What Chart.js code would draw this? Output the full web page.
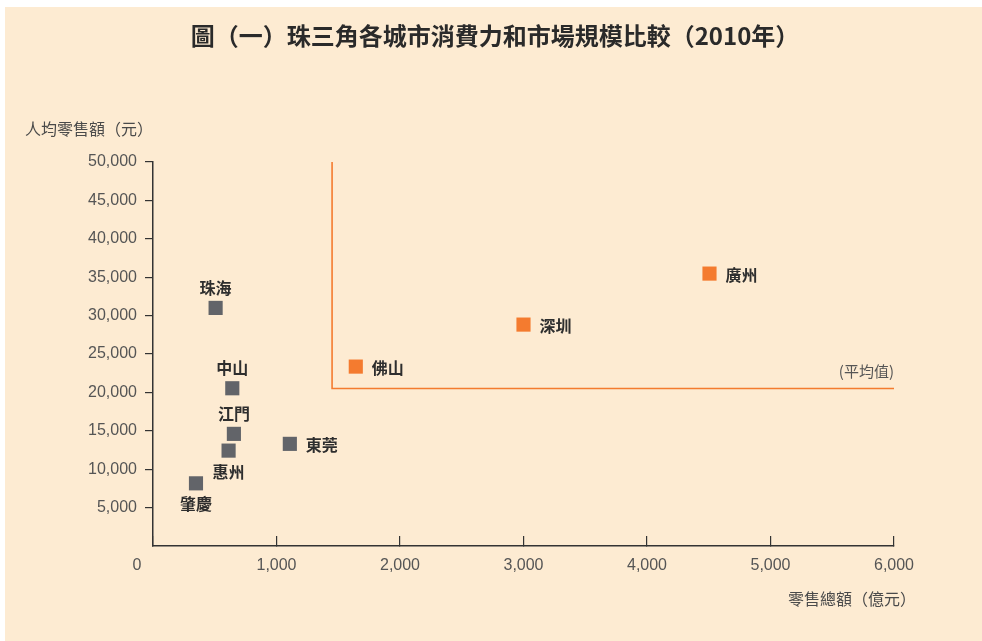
<!DOCTYPE html>
<html>
<head>
<meta charset="utf-8">
<title>珠三角各城市消費力和市場規模比較</title>
<script src="https://cdn.jsdelivr.net/npm/chart.js@4/dist/chart.umd.min.js"></script>
<style>
  html, body { margin: 0; padding: 0; background: #ffffff; }
  #panel { position: absolute; left: 5px; top: 7px; width: 977px; height: 634px; background: #fdebd2; }
  #wrap { position: absolute; left: 0; top: 0; width: 982px; height: 641px; }
</style>
</head>
<body>
<div id="panel"></div>
<div id="wrap"><canvas id="chart" width="982" height="641"></canvas></div>
<script>
// Cities below the regional average on at least one measure
const lowerCities = ['珠海', '中山', '江門', '惠州', '肇慶', '東莞'];
const lowerTotals = [507, 642, 655, 612, 348, 1108];            // 零售總額（億元）
const lowerPerCapita = [31000, 20540, 14600, 12420, 8160, 13300]; // 人均零售額（元）

// Cities above the average on both measures
const upperCities = ['佛山', '深圳', '廣州'];
const upperTotals = [1642, 3000, 4506];
const upperPerCapita = [23360, 28830, 35470];

// Regional averages
const avgTotal = 1450;
const avgPerCapita = 20500;

// Axis ranges and tick steps
const xTicks = [0, 1000, 2000, 3000, 4000, 5000, 6000];
const yTicks = [0, 5000, 10000, 15000, 20000, 25000, 30000, 35000, 40000, 45000, 50000];

const titleText = '圖（一）珠三角各城市消費力和市場規模比較（2010年）';
const yTitle = '人均零售額（元）';
const xTitle = '零售總額（億元）';
const avgText = '(平均值)';

// Where each city name sits relative to its marker
const lowerPlace = ['top', 'top', 'top', 'bottom', 'bottom', 'right'];
const upperPlace = ['right', 'right', 'right'];

const CJK = '"Noto Sans CJK TC", "Noto Sans CJK SC", sans-serif';
const NUM = '"Liberation Sans", Arial, sans-serif';
const GREY = '#626469';
const ORANGE = '#f47b2f';
const AXIS = '#333333';

const toPoints = (xs, ys) => xs.map((v, i) => ({ x: v, y: ys[i] }));
const fmt = v => v.toLocaleString('en-US');

const annotate = {
  id: 'annotate',
  afterDraw(chart) {
    const { ctx } = chart;
    const xs = chart.scales.x, ys = chart.scales.y;
    ctx.save();
    ctx.textBaseline = 'middle';

    // title
    ctx.fillStyle = '#2a2a2a';
    ctx.font = 'bold 24px ' + CJK;
    ctx.textAlign = 'center';
    ctx.fillText(titleText, 495, 36);

    // axis titles
    ctx.fillStyle = '#4a4a4a';
    ctx.font = '16px ' + CJK;
    ctx.textAlign = 'left';
    ctx.fillText(yTitle, 25, 129);
    ctx.textAlign = 'right';
    ctx.fillText(xTitle, 916, 599);

    // origin label, set off to the left of the corner
    ctx.fillStyle = '#555555';
    ctx.font = '16px ' + NUM;
    ctx.textAlign = 'center';
    ctx.fillText('0', xs.getPixelForValue(0) - 16, 566);

    // average marker caption
    ctx.font = '15px ' + CJK;
    ctx.textAlign = 'right';
    ctx.fillText(avgText, xs.getPixelForValue(xTicks[xTicks.length - 1]), ys.getPixelForValue(avgPerCapita) - 17);

    // city names
    ctx.fillStyle = '#2e2e2e';
    ctx.font = 'bold 16px ' + CJK;
    chart.data.datasets.forEach((ds, di) => {
      if (!ds.names) return;
      const meta = chart.getDatasetMeta(di);
      meta.data.forEach((pt, i) => {
        const place = ds.places[i];
        if (place === 'top') {
          ctx.textAlign = 'center';
          ctx.fillText(ds.names[i], pt.x, pt.y - 20);
        } else if (place === 'bottom') {
          ctx.textAlign = 'center';
          ctx.fillText(ds.names[i], pt.x, pt.y + 21);
        } else {
          ctx.textAlign = 'left';
          ctx.fillText(ds.names[i], pt.x + 16, pt.y + 1);
        }
      });
    });
    ctx.restore();
  }
};

new Chart(document.getElementById('chart'), {
  type: 'scatter',
  data: {
    datasets: [
      {
        label: '其他城市',
        data: toPoints(lowerTotals, lowerPerCapita),
        names: lowerCities,
        places: lowerPlace,
        pointStyle: 'rect',
        pointRadius: 10,
        pointHoverRadius: 10,
        backgroundColor: GREY,
        borderWidth: 0
      },
      {
        label: '高於平均',
        data: toPoints(upperTotals, upperPerCapita),
        names: upperCities,
        places: upperPlace,
        pointStyle: 'rect',
        pointRadius: 10,
        pointHoverRadius: 10,
        backgroundColor: ORANGE,
        borderWidth: 0
      },
      {
        label: '平均值',
        data: [
          { x: avgTotal, y: yTicks[yTicks.length - 1] },
          { x: avgTotal, y: avgPerCapita },
          { x: xTicks[xTicks.length - 1], y: avgPerCapita }
        ],
        showLine: true,
        pointRadius: 0,
        borderColor: ORANGE,
        borderWidth: 1.6,
        clip: false
      }
    ]
  },
  options: {
    responsive: false,
    animation: false,
    devicePixelRatio: 1,
    layout: { padding: { left: 0, top: 162, right: 88, bottom: 55 } },
    plugins: {
      legend: { display: false },
      tooltip: { enabled: false },
      title: { display: false }
    },
    scales: {
      x: {
        type: 'linear',
        min: xTicks[0],
        max: xTicks[xTicks.length - 1],
        afterBuildTicks: s => { s.ticks = xTicks.map(v => ({ value: v })); },
        afterFit: s => { s.height = 40; s.paddingLeft = 0; s.paddingRight = 0; },
        border: { display: true, color: AXIS, width: 1.5 },
        grid: { drawOnChartArea: false, drawTicks: true, tickLength: -10, color: AXIS, lineWidth: 1.2 },
        ticks: {
          padding: 20,
          color: '#555555',
          font: { family: NUM, size: 16 },
          maxRotation: 0,
          autoSkip: false,
          callback: v => (v === 0 ? '' : fmt(v))
        }
      },
      y: {
        type: 'linear',
        min: yTicks[0],
        max: yTicks[yTicks.length - 1],
        afterBuildTicks: s => { s.ticks = yTicks.map(v => ({ value: v })); },
        afterFit: s => { s.width = 153; s.paddingTop = 0; s.paddingBottom = 0; },
        border: { display: true, color: AXIS, width: 1.5 },
        grid: {
          drawOnChartArea: false,
          drawTicks: true,
          tickLength: 8,
          lineWidth: 1.2,
          color: c => (c.tick && c.tick.value === 0 ? 'rgba(0,0,0,0)' : AXIS)
        },
        ticks: {
          padding: 8,
          color: '#555555',
          font: { family: NUM, size: 16 },
          autoSkip: false,
          callback: v => (v === 0 ? '' : fmt(v))
        }
      }
    }
  },
  plugins: [annotate]
});
</script>
</body>
</html>
